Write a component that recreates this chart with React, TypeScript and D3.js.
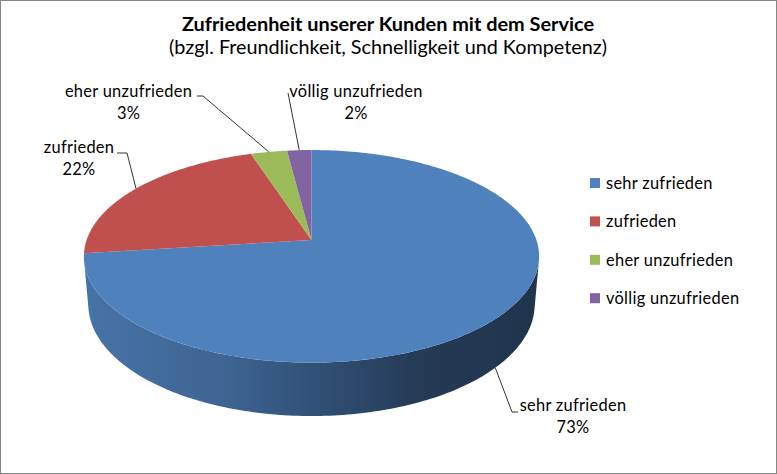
import * as React from 'react';
import * as d3 from 'd3';

const title = 'Zufriedenheit unserer Kunden mit dem Service';
const subtitle = '(bzgl. Freundlichkeit, Schnelligkeit und Kompetenz)';
const categories = ['sehr zufrieden', 'zufrieden', 'eher unzufrieden', 'völlig unzufrieden'];
const values = [73, 22, 3, 2];
const colors = ['#4f81bd', '#c0504d', '#9bbb59', '#8064a2'];

const W = 777;
const H = 474;
const FONT = 'Lato, "Open Sans", sans-serif';

// perspective camera for the 3d pie
const cx = 311.5;
const cy = 240;
const S = 0.4614; // sin of elevation
const C = 0.887;  // cos of elevation
const D = 5.78;   // camera distance (radius = 1)
const F = 1300;   // focal length in px
const T = 0.244;  // thickness of the pie

function proj(a: number, z: number, r = 1): [number, number] {
  const X = r * Math.sin(a);
  const Y = r * Math.cos(a);
  const v = Y * S + z * C;
  const w = -Y * C + z * S;
  const dist = D - w;
  return [cx + F * X / dist, cy - F * v / dist];
}

// walls face the camera where cos(a) < -1/(D*C)
const frontA = Math.acos(-1 / (D * C));
const front0 = frontA;
const front1 = 2 * Math.PI - frontA;

function arcPts(a0: number, a1: number, z: number) {
  const n = Math.max(2, Math.ceil((a1 - a0) / (Math.PI / 180)));
  return d3.range(n + 1).map(i => proj(a0 + (a1 - a0) * i / n, z));
}

const shadeStops: [number, number][] = [[0, 0.89], [0.3, 0.78], [0.5, 0.63], [0.75, 0.45], [1, 0.4]];
function shade(c: string, f: number) {
  const rgb = d3.rgb(c);
  return d3.rgb(rgb.r * f, rgb.g * f, rgb.b * f).formatHex();
}

// label boxes: centre x of the text block, baseline of the first line, leader elbow
const labelLayout = [
  { x: 573, y: 411, elbow: [512, 412], end: [518, 412] },
  { x: 79, y: 153, elbow: [127, 153], end: [117, 153] },
  { x: 128.5, y: 97, elbow: [203, 96], end: [197, 96] },
  { x: 356, y: 97, elbow: [288, 93], end: [288, 93] },
];

export default function App() {
  const pie = d3.pie<number>().sort(null).startAngle(0).endAngle(2 * Math.PI);
  const arcs = pie(values);
  const line = d3.line();
  const [left] = proj(-Math.PI / 2, 0);
  const [right] = proj(Math.PI / 2, 0);
  const total = d3.sum(values);

  return (
    <div style={{ position: 'fixed', left: 0, top: 0 }}>
      <svg width={W} height={H} style={{ display: 'block', background: '#fff' }}>
        <defs>
          {colors.map((c, i) => (
            <linearGradient key={i} id={`side${i}`} gradientUnits="userSpaceOnUse" x1={left} x2={right} y1={0} y2={0}>
              {shadeStops.map(([o, f]) => <stop key={o} offset={o} stopColor={shade(c, f)} />)}
            </linearGradient>
          ))}
        </defs>
        <rect x={0.5} y={0.5} width={W - 1} height={H - 1} fill="#fff" stroke="#868686" />

        <text x={388} y={31} textAnchor="middle" fontFamily={FONT} fontWeight="bold" fontSize={19.9}>{title}</text>
        <text x={388} y={54} textAnchor="middle" fontFamily={FONT} fontSize={19.8}>{subtitle}</text>

        <g>
          {arcs.map((d, i) => {
            const a0 = Math.max(d.startAngle, front0);
            const a1 = Math.min(d.endAngle, front1);
            if (a1 <= a0) return null;
            const pts = [...arcPts(a0, a1, 0), ...arcPts(a0, a1, -T).reverse()];
            return <path key={i} d={line(pts) + 'Z'} fill={`url(#side${i})`} />;
          })}
          {arcs.map((d, i) => {
            const pts = [proj(0, 0, 0), ...arcPts(d.startAngle, d.endAngle, 0)];
            return <path key={i} d={line(pts) + 'Z'} fill={colors[i]} />;
          })}
        </g>

        <g fontFamily={FONT} fontSize={16.4} letterSpacing={0.3} fill="#000">
          {arcs.map((d, i) => {
            const mid = (d.startAngle + d.endAngle) / 2;
            const inFront = Math.cos(mid) < 0;
            const p = proj(mid, inFront ? -T : 0);
            const L = labelLayout[i];
            return (
              <g key={i}>
                <path d={line([p, L.elbow as [number, number], L.end as [number, number]])!} fill="none" stroke="#000" strokeWidth={0.8} />
                <text x={L.x} y={L.y} textAnchor="middle">{categories[i]}</text>
                <text x={L.x} y={L.y + 22} textAnchor="middle">{`${Math.round(100 * values[i] / total)}%`}</text>
              </g>
            );
          })}
        </g>

        <g fontFamily={FONT} fontSize={16.4} letterSpacing={0.3}>
          {categories.map((c, i) => (
            <g key={c} transform={`translate(590,${178 + i * 38.4})`}>
              <rect width={10} height={10} fill={colors[i]} />
              <text x={16} y={11}>{c}</text>
            </g>
          ))}
        </g>
      </svg>
    </div>
  );
}
